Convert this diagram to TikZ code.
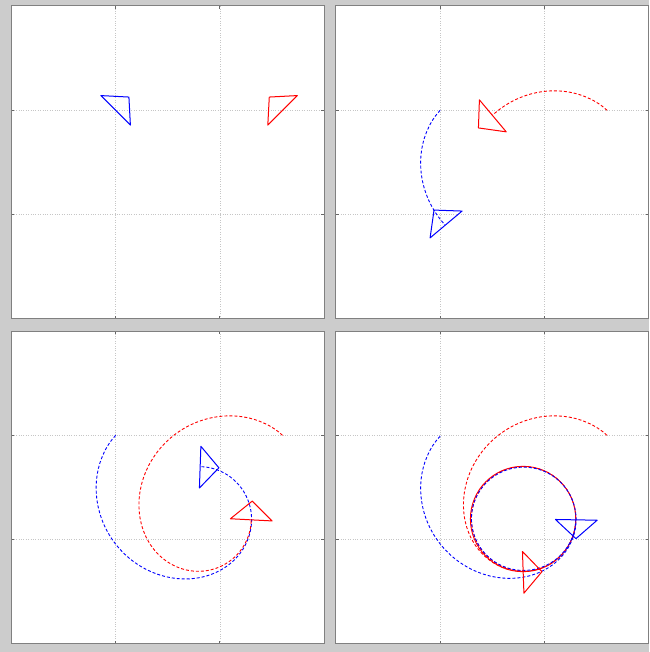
\documentclass[tikz,border=0pt]{standalone}
\usepackage{tikz}

\tikzset{
  frame/.style={draw=gray, line width=1pt},
  gridline/.style={gray!45, line width=0.7pt, dash pattern=on 0.8pt off 1.6pt},
  tickmark/.style={gray!80!black, line width=1pt},
  trail/.style={line width=0.9pt, dash pattern=on 3pt off 2pt},
  robot/.pic={\draw[line width=1pt, line join=round] (0,0.2) -- (0.18,0) -- (0,-0.2) -- cycle;},
  declare function={spiral(\a,\s)=0.5+0.631*exp(-1*(((\a-\s)/82)^1.65));}
}

\begin{document}
\begin{tikzpicture}[x=1pt,y=1pt]

% Draw the background
\path[use as bounding box, fill=gray!40] (0,0) rectangle (649,652);

% Draw the four frames with grid and ticks
\foreach \px/\py in {11.3/333, 335.8/333, 11.3/8, 335.8/8} {
  \begin{scope}[shift={(\px,\py)}, x=104.33pt, y=104.33pt]
    \fill[white] (0,0) rectangle (3,3);
    \foreach \t in {1,2} {
      \draw[gridline] (\t,0) -- (\t,3);
      \draw[gridline] (0,\t) -- (3,\t);
      \draw[tickmark] (\t,0) -- ++(0,3pt);
      \draw[tickmark] (\t,3) -- ++(0,-3pt);
      \draw[tickmark] (0,\t) -- ++(3pt,0);
      \draw[tickmark] (3,\t) -- ++(-3pt,0);
    }
    \draw[frame] (0,0) rectangle (3,3);
  \end{scope}
}

% Panel 1: starting poses
\begin{scope}[shift={(11.3,333)}, x=104.33pt, y=104.33pt]
  \pic[blue, rotate=45] at (1,2) {robot};
  \pic[red, rotate=135] at (2.6,2) {robot};
\end{scope}

% Panel 2
\begin{scope}[shift={(335.8,333)}, x=104.33pt, y=104.33pt]
  \draw[trail, blue] plot[domain=135:201.6, samples=40, variable=\a] ({1.8+spiral(\a,134.9)*cos(\a)}, {1.2+spiral(\a,134.9)*sin(\a)});
  \draw[trail, red] plot[domain=45:111.5, samples=40, variable=\a] ({1.8+spiral(\a,44.9)*cos(\a)}, {1.2+spiral(\a,44.9)*sin(\a)});
  \pic[blue, rotate=130] at (1.057,0.906) {robot};
  \pic[red, rotate=220] at (1.505,1.947) {robot};
\end{scope}

% Panel 3
\begin{scope}[shift={(11.3,8)}, x=104.33pt, y=104.33pt]
  \draw[trail, blue] plot[domain=135:448.8, samples=120, variable=\a] ({1.8+spiral(\a,134.9)*cos(\a)}, {1.2+spiral(\a,134.9)*sin(\a)});
  \draw[trail, red] plot[domain=45:359, samples=120, variable=\a] ({1.8+spiral(\a,44.9)*cos(\a)}, {1.2+spiral(\a,44.9)*sin(\a)});
  \pic[blue, rotate=-2] at (1.81,1.695) {robot};
  \pic[red, rotate=87] at (2.30,1.19) {robot};
\end{scope}

% Panel 4
\begin{scope}[shift={(335.8,8)}, x=104.33pt, y=104.33pt]
  \draw[red, line width=0.9pt] (1.795,1.198) circle[radius=0.505];
  \draw[trail, red] plot[domain=45:630, samples=200, variable=\a] ({1.8+spiral(\a,44.9)*cos(\a)}, {1.2+spiral(\a,44.9)*sin(\a)});
  \draw[trail, blue] plot[domain=135:719, samples=200, variable=\a] ({1.8+spiral(\a,134.9)*cos(\a)}, {1.2+0.99*spiral(\a,134.9)*sin(\a)});
  \pic[blue, rotate=-91] at (2.305,1.19) {robot};
  \pic[red, rotate=2] at (1.796,0.687) {robot};
\end{scope}

\end{tikzpicture}
\end{document}
